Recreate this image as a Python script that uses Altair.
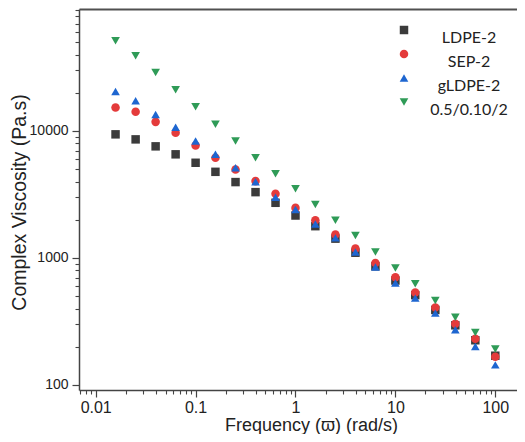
import altair as alt
import pandas as pd

# ---- data ----
freq = [0.0158, 0.0251, 0.0398, 0.0631, 0.1, 0.158, 0.251, 0.398, 0.631, 1.0,
        1.58, 2.51, 3.98, 6.31, 10.0, 15.8, 25.1, 39.8, 63.1, 100.0]
ldpe2 = [9410, 8590, 7570, 6550, 5620, 4770, 3960, 3300, 2720, 2160,
         1780, 1420, 1100, 860, 665, 510, 390, 295, 225, 170]
sep2 = [15300, 14200, 11800, 9700, 7700, 6160, 4980, 4030, 3200, 2480,
        1980, 1530, 1185, 914, 704, 535, 408, 303, 231, 167]
gldpe2 = [20500, 17300, 13500, 10700, 8340, 6550, 5140, 3980, 3010, 2410,
          1850, 1440, 1115, 849, 636, 483, 368, 272, 201, 144]
blend = [51400, 39100, 28900, 21100, 15500, 11300, 8340, 6160, 4600, 3510,
         2640, 1980, 1500, 1115, 834, 627, 463, 342, 259, 192]

series_names = ["LDPE-2", "SEP-2", "gLDPE-2", "0.5/0.10/2"]
series_values = [ldpe2, sep2, gldpe2, blend]
series_colors = ["#3b3b3b", "#e43b3b", "#1e66d0", "#2f9b57"]
series_shapes = ["square", "circle", "triangle-up", "triangle-down"]
series_sizes = [72, 75, 92, 92]

x_major = [0.01, 0.1, 1, 10, 100]
x_minor = [0.007, 0.008, 0.009,
           0.02, 0.03, 0.04, 0.05, 0.06, 0.07, 0.08, 0.09,
           0.2, 0.3, 0.4, 0.5, 0.6, 0.7, 0.8, 0.9,
           2, 3, 4, 5, 6, 7, 8, 9,
           20, 30, 40, 50, 60, 70, 80, 90]
y_major = [100, 1000, 10000]
y_minor = [200, 300, 400, 500, 600, 700, 800, 900,
           2000, 3000, 4000, 5000, 6000, 7000, 8000, 9000,
           20000, 30000, 40000, 50000, 60000, 70000, 80000, 90000]

x_domain = [0.006806, 164.9]
y_domain = [91.3, 91330]

rows = []
for i, (name, vals) in enumerate(zip(series_names, series_values)):
    for f, v in zip(freq, vals):
        rows.append({"freq": f, "visc": v, "sample": name, "idx": i})
df = pd.DataFrame(rows)

xscale = alt.Scale(type="log", domain=x_domain, nice=False)
yscale = alt.Scale(type="log", domain=y_domain, nice=False)

AX_COLOR = "#444444"
LABEL_FONT = "Liberation Sans"

legend = alt.Legend(
    title=None, orient="none", legendX=317, legendY=13, padding=0,
    labelFont="Lato", labelFontSize=16, labelColor="#222222",
    labelAlign="center", labelOffset=57, labelBaseline="top",
    symbolSize=64, symbolStrokeWidth=0, rowPadding=-2,
)

points = alt.Chart(df).mark_point(filled=True, opacity=1, strokeWidth=0).encode(
    x=alt.X("freq:Q", scale=xscale, axis=alt.Axis(
        orient="bottom", values=x_major, format="~g", grid=False,
        domain=True, domainColor=AX_COLOR, domainWidth=1.5,
        ticks=True, tickSize=7, tickColor=AX_COLOR, tickWidth=1.2,
        labelFont=LABEL_FONT, labelFontSize=16, labelColor="#222222", labelPadding=2,
        labelFlush=False, labelOverlap=False,
        title="Frequency (ϖ) (rad/s)", titleFont=LABEL_FONT, titleFontSize=18,
        titleFontWeight="normal", titleColor="#222222",
        titleX=232, titleY=40.5, titleAlign="center", titleBaseline="alphabetic",
    )),
    y=alt.Y("visc:Q", scale=yscale, axis=alt.Axis(
        orient="left", values=y_major, format="d", grid=False,
        domain=True, domainColor=AX_COLOR, domainWidth=1.5,
        ticks=True, tickSize=7, tickColor=AX_COLOR, tickWidth=1.2,
        labelFont=LABEL_FONT, labelFontSize=14, labelColor="#222222", labelPadding=4,
        labelFlush=False, labelOverlap=False,
        title="Complex Viscosity (Pa.s)", titleFont=LABEL_FONT, titleFontSize=19.5,
        titleFontWeight="normal", titleColor="#222222",
        titleX=-60, titleY=193, titleAngle=-90, titleAlign="center", titleBaseline="middle",
    )),
    color=alt.Color("sample:N", scale=alt.Scale(domain=series_names, range=series_colors), legend=legend),
    shape=alt.Shape("sample:N", scale=alt.Scale(domain=series_names, range=series_shapes), legend=legend),
    size=alt.Size("sample:N", scale=alt.Scale(domain=series_names, range=series_sizes), legend=None),
    order=alt.Order("idx:Q"),
)

minor = alt.Chart(df).mark_point(opacity=0).encode(
    x=alt.X("freq:Q", scale=xscale, axis=alt.Axis(
        orient="bottom", values=x_minor, labels=False, grid=False, domain=False,
        ticks=True, tickSize=4, tickColor=AX_COLOR, tickWidth=1.1, title=None)),
    y=alt.Y("visc:Q", scale=yscale, axis=alt.Axis(
        orient="left", values=y_minor, labels=False, grid=False, domain=False,
        ticks=True, tickSize=4, tickColor=AX_COLOR, tickWidth=1.1, title=None)),
)

top = alt.Chart(df).mark_point(opacity=0).encode(
    x=alt.X("freq:Q", scale=xscale, axis=alt.Axis(
        orient="top", labels=False, ticks=False, grid=False, domain=True,
        domainColor="#505050", domainWidth=2, title=None)),
    y=alt.Y("visc:Q", scale=yscale, axis=None),
)

chart = alt.layer(minor, top, points).resolve_axis(
    x="independent", y="independent"
).properties(
    width=438, height=381,
    autosize=alt.AutoSizeParams(type="none"),
    padding={"left": 71, "top": 1, "right": 0, "bottom": 44},
    background="white",
).configure_view(stroke=None)

chart.save("out.html", embed_options={"renderer": "svg", "actions": False})
